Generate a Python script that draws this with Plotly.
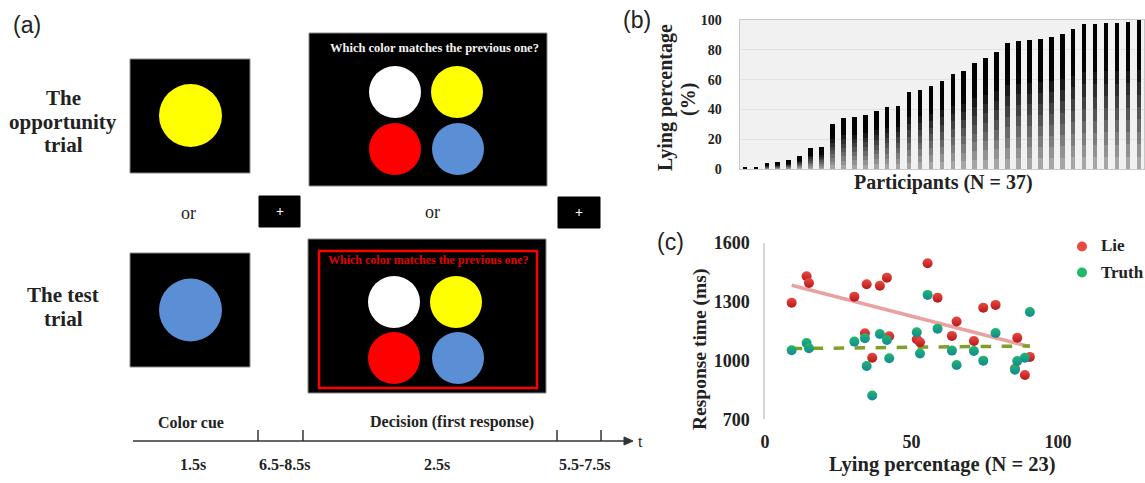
import plotly.graph_objects as go
import numpy as np

# ---------------- data ----------------
participants = list(range(1, 38))
lying_pct_all = [0.8, 0.8, 3.8, 4.5, 5.6, 8.7, 13.9, 14.5, 30.2, 34.0, 34.7, 36.2, 39.1,
                 41.6, 42.3, 51.9, 53.0, 55.7, 59.3, 63.8, 65.8, 71.4, 74.7, 78.7, 84.3,
                 85.9, 86.6, 87.5, 88.8, 90.8, 94.0, 97.3, 97.3, 98.2, 98.2, 98.9, 99.8]

lying_pct_sub = [9.1, 14.2, 15.0, 30.5, 34.1, 34.7, 36.6, 39.2, 41.6, 42.4, 51.8, 52.9,
                 55.5, 58.9, 63.8, 65.4, 71.3, 74.5, 78.7, 85.3, 86.1, 88.7, 90.4]
lie_rt = [1294, 1429, 1395, 1325, 1138, 1388, 1014, 1381, 1422, 1123, 1108, 1093,
          1495, 1320, 1125, 1198, 1099, 1269, 1283, 957, 1116, 926, 1018]
truth_rt = [1052, 1089, 1062, 1096, 1113, 972, 821, 1135, 1104, 1011, 1144, 1035,
            1334, 1162, 1050, 977, 1048, 999, 1140, 953, 997, 1014, 1247]

series_names = ["Lie", "Truth"]
b_yticks = [0, 20, 40, 60, 80, 100]
c_xticks = [0, 50, 100]
c_yticks = [700, 1000, 1300, 1600]

# ---------------- helpers ----------------
W, H = 1145, 483
def fx(x):
    return x / W
def fy(y):
    return 1 - y / H

SERIF = "Liberation Serif"
SANS = "Liberation Sans"
TXT = "#222222"
LIE_C, LIE_C2 = "#ec4a40", "#b3181c"
TRU_C, TRU_C2 = "#20b86a", "#13879c"

fig = go.Figure()

# ---- panel (b): bars with stepped vertical shading ----
NSEG = 12
for k in range(NSEG):
    frac = k / (NSEG - 1)
    g = int(max(0.0, 165 * (1 - frac / 0.75)))
    fig.add_trace(go.Bar(
        x=participants, y=[v / NSEG for v in lying_pct_all],
        marker=dict(color=f"rgb({g},{g},{g})", line=dict(width=0)),
        width=0.42, showlegend=False, hoverinfo="skip",
        xaxis="x", yaxis="y"))

# ---- panel (c): scatter + trend lines ----
xs = np.array(lying_pct_sub)
xl = np.array([xs.min(), xs.max()])
pl = np.polyfit(xs, np.array(lie_rt), 1)
pt = np.polyfit(xs, np.array(truth_rt), 1)

fig.add_trace(go.Scatter(x=xl, y=np.polyval(pl, xl), mode="lines",
                         line=dict(color="#e8a2a2", width=3.5),
                         showlegend=False, xaxis="x2", yaxis="y2", hoverinfo="skip"))
fig.add_trace(go.Scatter(x=xl, y=np.polyval(pt, xl), mode="lines",
                         line=dict(color="#7f9f2a", width=3.5, dash="dash"),
                         showlegend=False, xaxis="x2", yaxis="y2", hoverinfo="skip"))
fig.add_trace(go.Scatter(x=lying_pct_sub, y=lie_rt, mode="markers", name=series_names[0],
                         showlegend=False,
                         marker=dict(size=10, color=LIE_C,
                                     gradient=dict(type="vertical", color=LIE_C2)),
                         xaxis="x2", yaxis="y2"))
fig.add_trace(go.Scatter(x=lying_pct_sub, y=truth_rt, mode="markers", name=series_names[1],
                         showlegend=False,
                         marker=dict(size=10, color=TRU_C,
                                     gradient=dict(type="vertical", color=TRU_C2)),
                         xaxis="x2", yaxis="y2"))

# ---------------- shapes ----------------
shapes = []
def rect(x0, y0, x1, y1, fill, lc="#888888", lw=1):
    shapes.append(dict(type="rect", xref="paper", yref="paper",
                       x0=fx(x0), x1=fx(x1), y0=fy(y1), y1=fy(y0),
                       fillcolor=fill, line=dict(color=lc, width=lw)))
def circ(cx, cy, r, fill):
    shapes.append(dict(type="circle", xref="paper", yref="paper",
                       x0=fx(cx - r), x1=fx(cx + r), y0=fy(cy + r), y1=fy(cy - r),
                       fillcolor=fill, line=dict(width=0)))
def seg(x0, y0, x1, y1, color="#333333", w=1.5):
    shapes.append(dict(type="line", xref="paper", yref="paper",
                       x0=fx(x0), x1=fx(x1), y0=fy(y0), y1=fy(y1),
                       line=dict(color=color, width=w)))

YEL, BLU, RED, WHT = "#ffff00", "#5a8fd6", "#ff0000", "#ffffff"
rect(130, 59, 250, 173, "black")
circ(190.5, 115.5, 31.5, YEL)
rect(130, 253, 250, 367, "black")
circ(190.5, 310, 31.5, BLU)
rect(259, 196, 300, 227, "black", lc="black")
rect(558, 197, 600, 228, "black", lc="black")
rect(309, 33, 547, 186, "black")
for (cx, cy, c) in [(395, 92, WHT), (457, 92, YEL), (395, 149, RED), (458, 149, BLU)]:
    circ(cx, cy, 26, c)
rect(308, 239, 546, 393, "black")
rect(319, 251, 537, 388, "rgba(0,0,0,0)", lc=RED, lw=2.5)
for (cx, cy, c) in [(394, 302, WHT), (456, 302, YEL), (394, 358, RED), (458, 358, BLU)]:
    circ(cx, cy, 26, c)
seg(133, 441, 626, 441)
for tx in [258, 303, 557, 601]:
    seg(tx, 430, tx, 441)
shapes.append(dict(type="path", xref="paper", yref="paper",
                   path=f"M {fx(633)} {fy(441)} L {fx(624)} {fy(437)} L {fx(624)} {fy(445)} Z",
                   fillcolor="#333333", line=dict(color="#333333", width=1)))

# legend keys (drawn as layout decoration)
circ(1082, 246.5, 5, LIE_C)
circ(1082, 272.5, 5, TRU_C)

# panel (b) background
shapes.append(dict(type="rect", xref="x domain", yref="y domain", x0=0, x1=1, y0=0, y1=1,
                   fillcolor="#f1f1f1", line=dict(width=0), layer="below"))

# ---------------- annotations ----------------
ann = []
def text(x, y, s, size, family=SERIF, color=TXT, bold=False, angle=0, anchor="center"):
    ann.append(dict(xref="paper", yref="paper", x=fx(x), y=fy(y),
                    text=(f"<b>{s}</b>" if bold else s), showarrow=False,
                    xanchor=anchor, yanchor="middle", textangle=angle,
                    font=dict(family=family, size=size, color=color)))

text(27, 25, "(a)", 23, family=SANS)
text(637, 20, "(b)", 23, family=SANS)
text(670, 242, "(c)", 23, family=SANS)

text(63, 98, "The", 21, bold=True)
text(63, 122, "opportunity", 21, bold=True)
text(63, 145, "trial", 21, bold=True)
text(63, 295, "The test", 21, bold=True)
text(63, 319, "trial", 21, bold=True)
text(188, 213, "or", 18)
text(432, 212, "or", 18)
text(279.5, 211.5, "+", 14, color="white", bold=True)
text(579, 212.5, "+", 14, color="white", bold=True)
text(434.5, 48, "Which color matches the previous one?", 12.5, color="#f2f2f2", bold=True)
text(428, 260, "Which color matches the previous one?", 12, color="#e00000", bold=True)

text(191, 422, "Color cue", 16, bold=True)
text(452, 422, "Decision (first response)", 16, bold=True)
text(193, 464, "1.5s", 16, bold=True)
text(285, 464, "6.5-8.5s", 16, bold=True)
text(437, 464, "2.5s", 16, bold=True)
text(585, 464, "5.5-7.5s", 16, bold=True)
text(640, 441, "t", 16)

text(665, 98, "Lying percentage", 20, bold=True, angle=-90)
text(689, 100, "(%)", 20, bold=True, angle=-90)
text(943, 182, "Participants (N = 37)", 20, bold=True)
text(700, 350, "Response time (ms)", 19.5, bold=True, angle=-90)
text(942, 464, "Lying percentage (N = 23)", 20.5, bold=True)

text(1099, 246, series_names[0], 17, bold=True, anchor="left")
text(1099, 272, series_names[1], 17, bold=True, anchor="left")

# ---------------- layout ----------------
fig.update_layout(
    width=W, height=H, autosize=False,
    margin=dict(l=0, r=0, t=0, b=0, pad=0, autoexpand=False),
    paper_bgcolor="white", plot_bgcolor="rgba(0,0,0,0)",
    barmode="stack", bargap=0.5, showlegend=False,
    shapes=shapes, annotations=ann,
    xaxis=dict(domain=[fx(739.5), fx(1144.3)], range=[0.5, 37.5], anchor="y",
               showticklabels=False, ticks="", showgrid=False, zeroline=False,
               showline=True, mirror=True, linecolor="#c8c8c8", linewidth=1),
    yaxis=dict(domain=[fy(169), fy(20)], range=[0, 100], anchor="x",
               tickvals=b_yticks, showgrid=True, gridcolor="#e2e2e2", zeroline=False,
               showline=True, mirror=True, linecolor="#c8c8c8", linewidth=1,
               ticks="", ticklabelstandoff=14,
               tickfont=dict(family=SERIF, size=14, color=TXT, weight="bold")),
    xaxis2=dict(domain=[fx(765), fx(1058)], range=[0, 100], anchor="y2",
                tickvals=c_xticks, showgrid=False, zeroline=False, showline=False,
                ticks="", ticklabelstandoff=10,
                tickfont=dict(family=SERIF, size=18, color=TXT, weight="bold")),
    yaxis2=dict(domain=[fy(419.3), fy(242.7)], range=[700, 1600], anchor="x2",
                tickvals=c_yticks, showgrid=False, zeroline=False,
                showline=True, linecolor="#d6d6d6", linewidth=1.5,
                ticks="", ticklabelstandoff=10,
                tickfont=dict(family=SERIF, size=18, color=TXT, weight="bold")),
)

post = (
    "document.documentElement.style.margin='0';"
    "document.documentElement.style.overflow='hidden';"
    "document.body.style.margin='0';"
    "document.body.style.overflow='hidden';"
)
fig.write_html("out.html", config={"displayModeBar": False}, post_script=post)
